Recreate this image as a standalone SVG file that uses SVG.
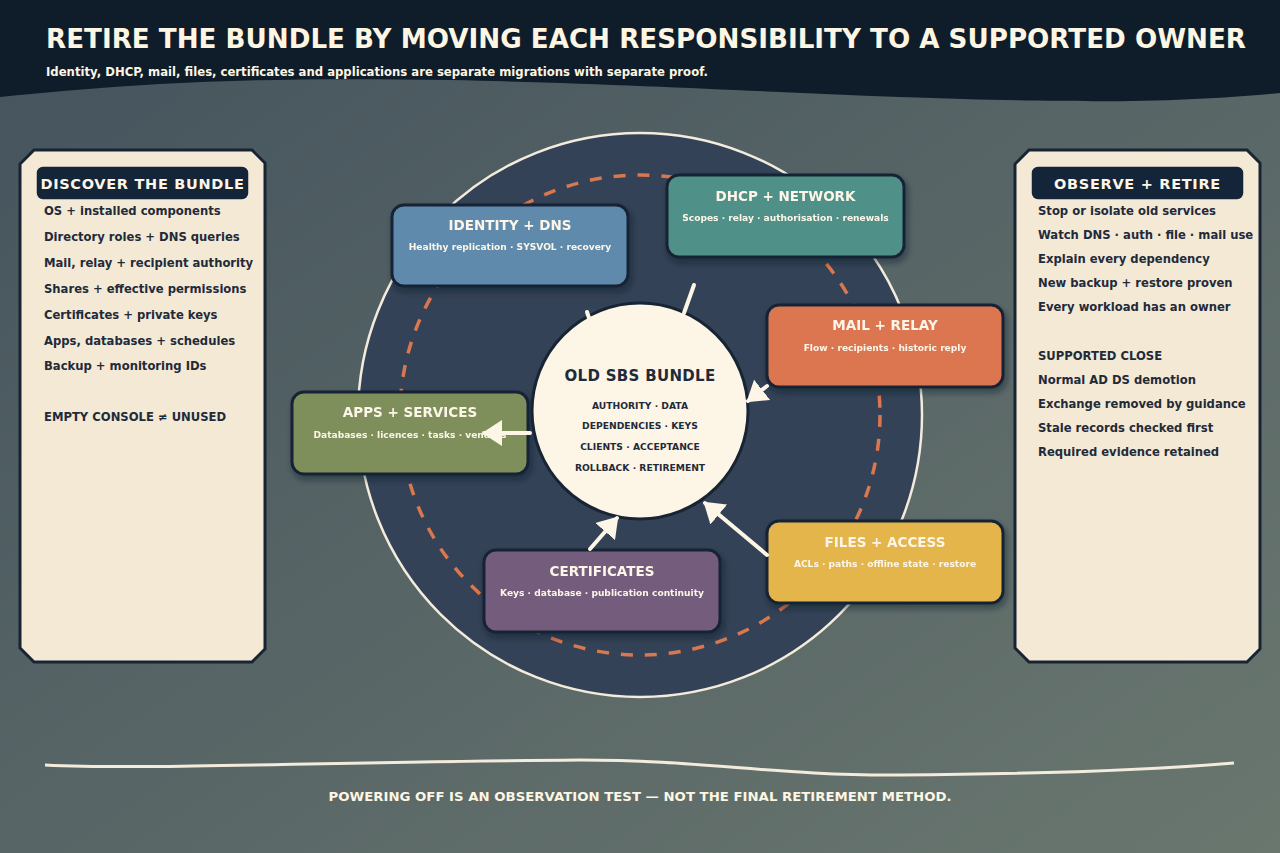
<svg xmlns="http://www.w3.org/2000/svg" width="1280" height="853" viewBox="0 0 1280 853">
<defs>
<linearGradient id="bg" x1="0" y1="0" x2="1" y2="1">
<stop offset="0" stop-color="#44535d"/>
<stop offset="1" stop-color="#6a776f"/>
</linearGradient>
<filter id="sh" x="-10%" y="-10%" width="130%" height="140%">
<feDropShadow dx="2" dy="4" stdDeviation="3" flood-color="#0b1520" flood-opacity="0.45"/>
</filter>
<marker id="ah" viewBox="0 0 20 26" refX="18" refY="13" markerWidth="20" markerHeight="26" markerUnits="userSpaceOnUse" orient="auto">
<path d="M0,0 L20,13 L0,26 Z" fill="#fdf6e6"/>
</marker>
<style>
text{font-family:"DejaVu Sans","Liberation Sans",sans-serif;font-weight:bold}
.panel{fill:#f4e9d5;stroke:#182434;stroke-width:3}
.pill{fill:#14253a;stroke:#f4e9d5;stroke-width:1.5}
.ptitle{fill:#fdf6e6;font-size:14.5px;letter-spacing:0.7px;text-anchor:middle}
.item{fill:#1f2b3a;font-size:11.6px}
.node{stroke:#182434;stroke-width:3}
.nt{fill:#fdf6e8;font-size:13.5px;text-anchor:middle}
.ns{fill:#fdf6e8;font-size:9.1px;text-anchor:middle}
.ct{fill:#1f2b3a;text-anchor:middle}
.conn{stroke:#fdf6e6;stroke-width:4;fill:none;stroke-linecap:round}
</style>
</defs>
<rect width="1280" height="853" fill="url(#bg)"/>
<path d="M0,0 H1280 V93 C1180,102 1100,104 900,97 C760,92 640,84 450,80 C260,77 150,82 0,97 Z" fill="#0f1d2b"/>
<text x="46" y="48" font-size="26" fill="#fdf6e3" textLength="1200" lengthAdjust="spacingAndGlyphs">RETIRE THE BUNDLE BY MOVING EACH RESPONSIBILITY TO A SUPPORTED OWNER</text>
<text x="46" y="76" font-size="11.5" fill="#fdf6e3" textLength="662" lengthAdjust="spacingAndGlyphs">Identity, DHCP, mail, files, certificates and applications are separate migrations with separate proof.</text>

<g id="ring">
<circle cx="640" cy="415" r="282" fill="#334256" stroke="#f3ecdc" stroke-width="2.5"/>
<circle cx="640" cy="415" r="240" fill="none" stroke="#d9774f" stroke-width="3.5" stroke-dasharray="12 12"/>
</g>

<g id="panel-discover">
<polygon class="panel" points="34,150 252,150 265,163 265,649 252,662 34,662 20,648 20,164"/>
<rect class="pill" x="36" y="166" width="213" height="34" rx="7"/>
<text class="ptitle" x="142.5" y="189">DISCOVER THE BUNDLE</text>
<text class="item" x="44" y="215">OS + installed components</text>
<text class="item" x="44" y="241">Directory roles + DNS queries</text>
<text class="item" x="44" y="267">Mail, relay + recipient authority</text>
<text class="item" x="44" y="293">Shares + effective permissions</text>
<text class="item" x="44" y="319">Certificates + private keys</text>
<text class="item" x="44" y="345">Apps, databases + schedules</text>
<text class="item" x="44" y="370">Backup + monitoring IDs</text>
<text class="item" x="44" y="421">EMPTY CONSOLE ≠ UNUSED</text>
</g>

<g id="panel-observe">
<polygon class="panel" points="1029,150 1247,150 1260,163 1260,649 1247,662 1029,662 1015,648 1015,164"/>
<rect class="pill" x="1031" y="166" width="213" height="34" rx="7"/>
<text class="ptitle" x="1137.5" y="189">OBSERVE + RETIRE</text>
<text class="item" x="1038" y="215">Stop or isolate old services</text>
<text class="item" x="1038" y="239">Watch DNS · auth · file · mail use</text>
<text class="item" x="1038" y="263">Explain every dependency</text>
<text class="item" x="1038" y="287">New backup + restore proven</text>
<text class="item" x="1038" y="311">Every workload has an owner</text>
<text class="item" x="1038" y="360">SUPPORTED CLOSE</text>
<text class="item" x="1038" y="384">Normal AD DS demotion</text>
<text class="item" x="1038" y="408">Exchange removed by guidance</text>
<text class="item" x="1038" y="432">Stale records checked first</text>
<text class="item" x="1038" y="456">Required evidence retained</text>
</g>

<g id="node-identity" filter="url(#sh)">
<rect class="node" x="392" y="205" width="236" height="81" rx="12" fill="#5f8aab"/>
<text class="nt" x="510" y="230">IDENTITY + DNS</text>
<text class="ns" x="510" y="250">Healthy replication · SYSVOL · recovery</text>
</g>
<g id="node-dhcp" filter="url(#sh)">
<rect class="node" x="667" y="175" width="237" height="82" rx="12" fill="#4f9189"/>
<text class="nt" x="785.5" y="201">DHCP + NETWORK</text>
<text class="ns" x="785.5" y="221">Scopes · relay · authorisation · renewals</text>
</g>
<g id="node-mail" filter="url(#sh)">
<rect class="node" x="767" y="305" width="236" height="82" rx="12" fill="#dc7651"/>
<text class="nt" x="885" y="330">MAIL + RELAY</text>
<text class="ns" x="885" y="351">Flow · recipients · historic reply</text>
</g>
<g id="node-apps" filter="url(#sh)">
<rect class="node" x="292" y="392" width="236" height="82" rx="12" fill="#7e8f5c"/>
<text class="nt" x="410" y="417">APPS + SERVICES</text>
<text class="ns" x="410" y="438">Databases · licences · tasks · vendors</text>
</g>
<g id="node-certificates" filter="url(#sh)">
<rect class="node" x="484" y="550" width="236" height="82" rx="12" fill="#735c7b"/>
<text class="nt" x="602" y="576">CERTIFICATES</text>
<text class="ns" x="602" y="596">Keys · database · publication continuity</text>
</g>
<g id="node-files" filter="url(#sh)">
<rect class="node" x="767" y="521" width="236" height="82" rx="12" fill="#e3b54b"/>
<text class="nt" x="885" y="547">FILES + ACCESS</text>
<text class="ns" x="885" y="567">ACLs · paths · offline state · restore</text>
</g>

<g id="node-center">
<circle cx="640" cy="411" r="108" fill="#fdf6e6" stroke="#182434" stroke-width="3"/>
<text class="ct" x="640" y="381" font-size="15" letter-spacing="0.3">OLD SBS BUNDLE</text>
<text class="ct" x="640" y="409" font-size="9.2">AUTHORITY · DATA</text>
<text class="ct" x="640" y="429" font-size="9.2">DEPENDENCIES · KEYS</text>
<text class="ct" x="640" y="450" font-size="9.2">CLIENTS · ACCEPTANCE</text>
<text class="ct" x="640" y="471" font-size="9.2">ROLLBACK · RETIREMENT</text>
</g>

<g id="connectors">
<line class="conn" x1="587" y1="312" x2="589" y2="318" stroke-width="3"/>
<line class="conn" x1="694" y1="285" x2="684" y2="313" stroke-width="3"/>
<line class="conn" x1="767" y1="386" x2="748" y2="401" marker-end="url(#ah)"/>
<line class="conn" x1="530" y1="433" x2="484" y2="433" marker-end="url(#ah)"/>
<line class="conn" x1="590" y1="549" x2="617" y2="518" marker-end="url(#ah)"/>
<line class="conn" x1="767" y1="555" x2="705" y2="503" marker-end="url(#ah)"/>
</g>

<path d="M45,765 C150,770 300,762 580,760 C700,760 780,776 900,775 C1050,774 1150,770 1234,763" fill="none" stroke="#f3ecdc" stroke-width="3"/>
<text x="640" y="801" font-size="13" fill="#fdf6e3" text-anchor="middle" textLength="623" lengthAdjust="spacingAndGlyphs">POWERING OFF IS AN OBSERVATION TEST — NOT THE FINAL RETIREMENT METHOD.</text>
</svg>
